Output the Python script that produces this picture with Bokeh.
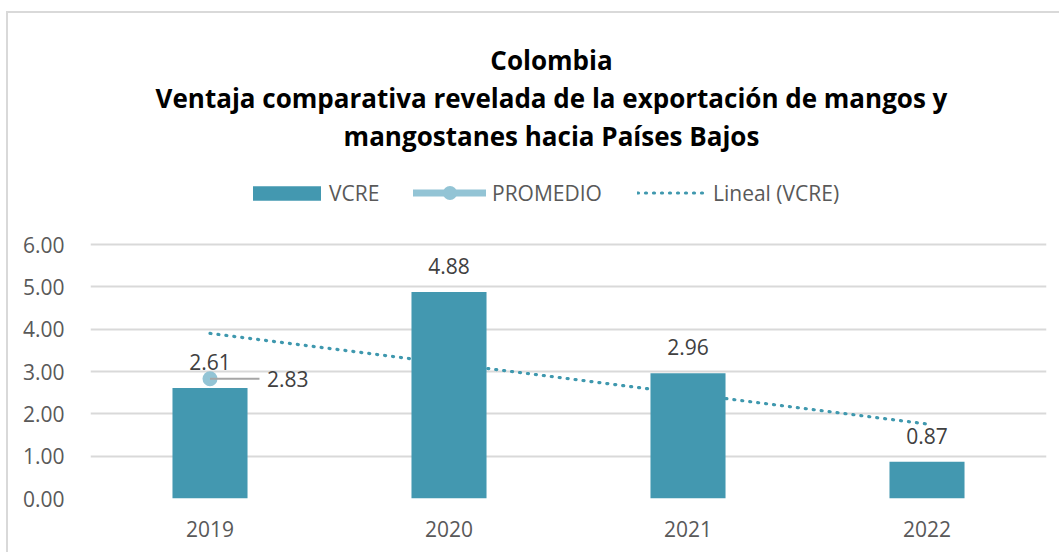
from bokeh.plotting import figure
from bokeh.models import (ColumnDataSource, LabelSet, Label, Legend, LegendItem,
                          FactorRange, Range1d)
from bokeh.transform import dodge
from bokeh.core.properties import value
from bokeh.embed import file_html
from bokeh.resources import INLINE

# ---- data ----
years = ["2019", "2020", "2021", "2022"]
vcre = [2.61, 4.88, 2.96, 0.87]
promedio_year = ["2019"]
promedio = [2.83]
trend_years = ["2019", "2022"]
trend_vals = [3.90, 1.76]
y_ticks = [0, 1, 2, 3, 4, 5, 6]
title_lines = ["Colombia",
               "Ventaja comparativa revelada de la exportación de mangos y",
               "mangostanes hacia Países Bajos"]

FONT = "Open Sans"
BAR = "#4398b0"
PROM = "#93c4d5"
TREND = "#3f98ae"

# y range extends above 6 so the title/legend area lies inside the frame
p = figure(x_range=FactorRange(*years), y_range=Range1d(0, 11.457), width=1053, height=541,
           output_backend="svg", toolbar_location=None,
           min_border_left=82, min_border_right=15, min_border_top=0, min_border_bottom=56)
p.styles = {"margin-left": "6px", "margin-top": "11px",
            "border-left": "2px solid #d9d9d9", "border-top": "2px solid #d9d9d9"}
p.outline_line_color = None
p.background_fill_color = "white"
p.border_fill_color = "white"

# axes
p.xaxis.axis_line_color = None
p.xaxis.major_tick_line_color = None
p.xaxis.minor_tick_line_color = None
p.xaxis.major_label_text_font = FONT
p.xaxis.major_label_text_font_size = "21px"
p.xaxis.major_label_text_color = "#595959"
p.xaxis.major_label_standoff = 16

p.yaxis.axis_line_color = None
p.yaxis.major_tick_line_color = None
p.yaxis.minor_tick_line_color = None
p.yaxis.ticker = y_ticks
p.yaxis.major_label_overrides = {t: f"{t:.2f}" for t in y_ticks}
p.yaxis.major_label_text_font = FONT
p.yaxis.major_label_text_font_size = "21px"
p.yaxis.major_label_text_color = "#595959"
p.yaxis.major_label_standoff = 20

p.xgrid.grid_line_color = None
p.ygrid.grid_line_color = "#d9d9d9"
p.ygrid.grid_line_width = 2

# trend line (behind bars)
tsrc = ColumnDataSource(dict(x=trend_years, y=trend_vals))
trend = p.line("x", "y", source=tsrc, line_color=TREND, line_width=3.2,
               line_dash="1 7", line_cap="round")

# bars
src = ColumnDataSource(dict(x=years, y=vcre, lab=[f"{v:.2f}" for v in vcre]))
bars = p.vbar(x="x", top="y", width=0.314, source=src, fill_color=BAR, line_color=None)

labels = LabelSet(x="x", y="y", text="lab", source=src, y_offset=18,
                  text_align="center", text_baseline="alphabetic",
                  text_font=value(FONT), text_font_size="21px", text_color="#404040")
p.add_layout(labels)

# promedio
psrc = ColumnDataSource(dict(x=promedio_year, y=promedio, lab=[f"{v:.2f}" for v in promedio]))
prom_line = p.line("x", "y", source=psrc, line_color=PROM, line_width=7, line_cap="round")
prom_dot = p.scatter("x", "y", source=psrc, size=15, fill_color=PROM, line_color=None)
p.segment(x0="x", y0="y", x1=dodge("x", 0.207, range=p.x_range), y1="y", source=psrc,
          line_color="#a6a6a6", line_width=2)
plabels = LabelSet(x="x", y="y", text="lab", source=psrc, x_offset=57, y_offset=-8.5,
                   text_align="left", text_baseline="alphabetic",
                   text_font=value(FONT), text_font_size="21px", text_color="#404040")
p.add_layout(plabels)

# titles (screen units relative to frame bottom-left)
for line, yb in zip(title_lines, [439, 401, 363]):
    p.add_layout(Label(x=461, y=yb, x_units="screen", y_units="screen", text=line,
                       text_align="center", text_baseline="alphabetic",
                       text_font=FONT, text_font_style="bold",
                       text_font_size="26px", text_color="#000000"))

# legend: one small legend per entry for exact placement
common = dict(orientation="horizontal", padding=0, margin=0, border_line_color=None,
              background_fill_alpha=0, label_text_font=FONT, label_text_font_size="21px",
              label_text_color="#595959", label_height=35)
leg_items = [
    (LegendItem(label="VCRE", renderers=[bars]), 154, 85, 18, 0),
    (LegendItem(label="PROMEDIO", renderers=[prom_line, prom_dot]), 323, 73, 35, 6),
    (LegendItem(label="Lineal (VCRE)", renderers=[trend]), 547, 68, 35, 8),
]
for item, lx, gw, gh, so in leg_items:
    lg = Legend(items=[item], location=(lx, 288), glyph_width=gw, glyph_height=gh,
                label_standoff=so, **common)
    p.add_layout(lg, "center")

open("out.html", "w").write(file_html(p, INLINE))
